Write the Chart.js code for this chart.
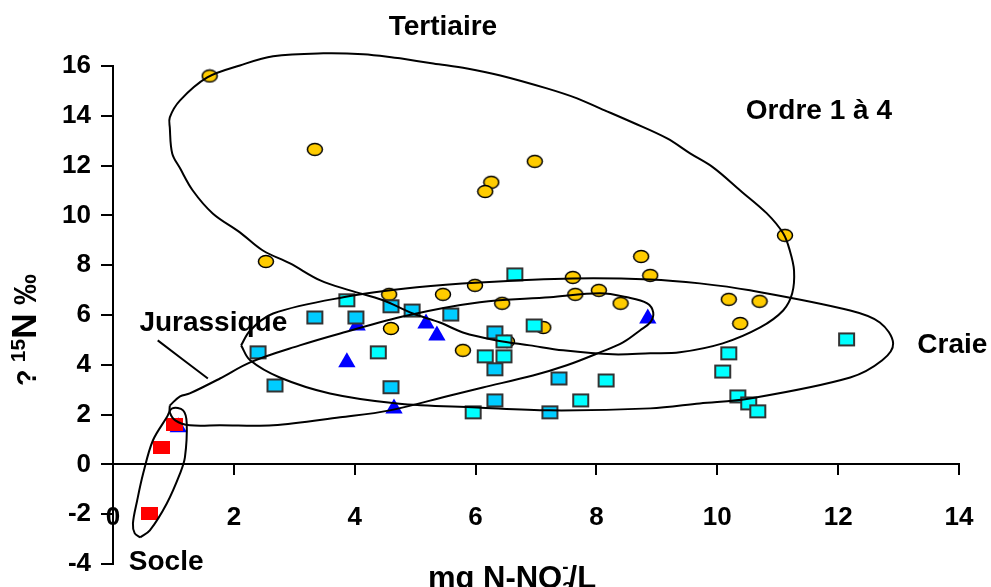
<!DOCTYPE html>
<html>
<head>
<meta charset="utf-8">
<script src="https://cdn.jsdelivr.net/npm/chart.js@4/dist/chart.umd.min.js"></script>
<style>
body{margin:0;background:#fff;}
</style>
</head>
<body>
<canvas id="chart" width="991" height="587"></canvas>
<script>

// valeurs (x = mg N-NO3/L, y = d15N)
var tertiaireX = [1.6, 3.34, 6.98, 6.26, 6.16, 11.12, 8.74, 2.53, 8.89, 8.04, 8.4, 10.19, 10.7, 10.38, 5.46, 5.99, 7.61, 6.44, 7.65, 7.12, 6.52, 5.79, 4.57, 4.6];
var tertiaireY = [15.6, 12.65, 12.17, 11.33, 10.96, 9.2, 8.35, 8.15, 7.59, 6.99, 6.47, 6.63, 6.55, 5.66, 6.83, 7.19, 7.51, 6.47, 6.83, 5.5, 4.94, 4.58, 6.83, 5.46];

var craieCyanX = [3.87, 4.39, 6.65, 6.97, 6.47, 6.16, 6.47, 8.16, 7.74, 5.96, 10.19, 10.09, 10.34, 10.52, 10.67, 12.14];
var craieCyanY = [6.59, 4.5, 7.63, 5.58, 4.94, 4.34, 4.34, 3.37, 2.57, 2.09, 4.46, 3.73, 2.73, 2.45, 2.13, 5.02];

var craieBleuX = [3.34, 4.02, 4.6, 4.95, 2.4, 2.68, 4.6, 5.59, 6.32, 6.32, 7.38, 6.32, 7.23];
var craieBleuY = [5.9, 5.9, 6.35, 6.18, 4.5, 3.17, 3.1, 6.02, 5.3, 3.82, 3.45, 2.57, 2.09];

var jurassiqueX = [4.04, 5.18, 5.36, 3.87, 4.65, 8.85, 1.08];
var jurassiqueY = [5.58, 5.66, 5.18, 4.1, 2.25, 5.86, 1.49];

var socleX = [1.01, 0.81, 0.6];
var socleY = [1.61, 0.68, -1.97];

var xTicks = [0, 2, 4, 6, 8, 10, 12, 14];
var yTicks = [-4, -2, 0, 2, 4, 6, 8, 10, 12, 14, 16];

var etiquettes = ['Tertiaire', 'Ordre 1 à 4', 'Jurassique', 'Craie', 'Socle'];

// contours dessines a la main sur l'original (en unites du graphique)
var contourTertiaire = [[4.75,16.31],[5.30,16.10],[5.86,15.90],[6.41,15.62],[7.18,15.10],[7.68,14.70],[8.06,14.30],[8.60,13.73],[9.17,13.09],[9.55,12.49],[9.93,11.93],[10.38,11.00],[10.82,10.08],[11.09,9.28],[11.20,8.59],[11.27,7.79],[11.24,6.87],[11.09,6.18],[10.71,5.50],[10.09,4.86],[9.38,4.50],[8.89,4.46],[8.27,4.42],[7.45,4.58],[6.90,4.78],[6.35,4.98],[5.79,5.30],[5.41,5.70],[4.96,6.06],[4.47,6.59],[3.92,6.99],[3.43,7.39],[2.93,8.07],[2.48,8.59],[2.10,9.32],[1.65,10.08],[1.32,11.00],[1.11,11.89],[0.98,12.49],[0.94,13.53],[0.94,13.94],[1.11,14.62],[1.56,15.54],[2.10,16.02],[2.65,16.39],[3.48,16.51],[4.14,16.47]];
var contourCraie = [[2.12,4.78],[2.27,5.38],[2.65,6.06],[3.81,6.71],[5.03,7.11],[6.07,7.31],[7.61,7.47],[8.89,7.43],[9.71,7.27],[10.54,6.99],[12.20,6.18],[12.69,5.70],[12.91,4.86],[12.73,4.18],[12.20,3.49],[10.54,2.65],[9.71,2.45],[8.89,2.25],[7.23,2.17],[6.02,2.29],[4.70,2.45],[3.59,2.85],[2.76,3.49],[2.27,4.18]];
var contourJurassique = [[0.94,2.37],[1.11,2.73],[1.27,2.85],[1.77,3.45],[2.27,4.10],[3.09,4.78],[3.76,5.26],[4.87,5.98],[6.07,6.51],[7.23,6.71],[8.06,6.87],[8.51,6.71],[8.84,6.47],[8.94,6.10],[8.89,5.70],[8.72,5.38],[8.44,4.90],[8.06,4.50],[7.51,3.98],[6.95,3.57],[6.12,3.09],[5.58,2.77],[4.58,2.17],[3.76,1.89],[2.65,1.57],[1.77,1.57],[1.27,1.57],[1.03,1.77],[0.94,2.09]];
var contourSocle = [[0.45,-2.93],[0.61,-2.65],[0.89,-1.57],[1.11,-0.36],[1.19,0.28],[1.22,1.65],[1.16,2.17],[0.98,2.25],[0.89,1.89],[0.66,0.96],[0.50,-0.36],[0.40,-1.45],[0.33,-2.37],[0.36,-2.77]];
var traitJurassique = [[0.74,4.98],[1.57,3.45]];

var police = '"Liberation Sans", Arial, sans-serif';

function points(xs, ys){
	var d = [];
	for(var i = 0; i < xs.length; i++){
		d.push({x: xs[i], y: ys[i]});
	}
	return d;
}

function contour(pts, ferme){
	var d = [];
	for(var i = 0; i < pts.length; i++){
		d.push({x: pts[i][0], y: pts[i][1]});
	}
	if(ferme) d.push({x: pts[0][0], y: pts[0][1]});
	return d;
}

function ellipse(w, h, fond, trait, lw){
	var c = document.createElement('canvas');
	c.width = w + lw * 2;
	c.height = h + lw * 2;
	var ctx = c.getContext('2d');
	ctx.beginPath();
	ctx.ellipse(c.width / 2, c.height / 2, w / 2, h / 2, 0, 0, Math.PI * 2);
	ctx.fillStyle = fond;
	ctx.fill();
	if(lw){
		ctx.lineWidth = lw;
		ctx.strokeStyle = trait;
		ctx.stroke();
	}
	return c;
}

function rectangle(w, h, fond, trait, lw){
	var c = document.createElement('canvas');
	c.width = w + lw * 2;
	c.height = h + lw * 2;
	var ctx = c.getContext('2d');
	ctx.fillStyle = fond;
	ctx.fillRect(lw, lw, w, h);
	if(lw){
		ctx.lineWidth = lw;
		ctx.strokeStyle = trait;
		ctx.strokeRect(lw, lw, w, h);
	}
	return c;
}

function ligne(pts, ferme){
	return {
		data: contour(pts, ferme),
		showLine: true,
		borderColor: '#000',
		borderWidth: 2,
		pointRadius: 0,
		tension: 0.35,
		fill: false,
		clip: false
	};
}

var textes = {
	id: 'textes',
	afterDraw: function(chart){
		var ctx = chart.ctx;
		var sx = chart.scales.x;
		var sy = chart.scales.y;
		ctx.save();
		ctx.fillStyle = '#000';
		ctx.textAlign = 'center';
		ctx.textBaseline = 'middle';
		ctx.font = 'bold 28px ' + police;
		var pos = [[5.46, 17.55], [11.68, 14.18], [1.66, 5.66], [13.89, 4.78], [0.88, -3.93]];
		for(var i = 0; i < etiquettes.length; i++){
			ctx.fillText(etiquettes[i], sx.getPixelForValue(pos[i][0]), sy.getPixelForValue(pos[i][1]));
		}

		// titre axe x : mg N-NO3-/L
		ctx.textAlign = 'left';
		ctx.textBaseline = 'alphabetic';
		var grand = 'bold 31px ' + police;
		var petit = 'bold 19px ' + police;
		var morceaux = [['mg N-NO', grand, 0], ['3', petit, 7], ['-', petit, -15], ['/L', grand, 0]];
		var total = 0;
		for(var i = 0; i < morceaux.length; i++){
			ctx.font = morceaux[i][1];
			if(i != 1) total += ctx.measureText(morceaux[i][0]).width;
		}
		var x = 512 - total / 2;
		var base = 588;
		for(var i = 0; i < morceaux.length; i++){
			ctx.font = morceaux[i][1];
			ctx.fillText(morceaux[i][0], x, base + morceaux[i][2]);
			if(i != 1) x += ctx.measureText(morceaux[i][0]).width;
		}

		// titre axe y : ? 15N ‰
		ctx.translate(36, 330);
		ctx.rotate(-Math.PI / 2);
		var morceauxY = [['? ', 'bold 27px ' + police, 0], ['15', 'bold 21px ' + police, -11], ['N', 'bold 35px ' + police, 0], [' ‰', 'bold 31px ' + police, 0]];
		total = 0;
		for(var i = 0; i < morceauxY.length; i++){
			ctx.font = morceauxY[i][1];
			total += ctx.measureText(morceauxY[i][0]).width;
		}
		x = -total / 2;
		for(var i = 0; i < morceauxY.length; i++){
			ctx.font = morceauxY[i][1];
			ctx.fillText(morceauxY[i][0], x, morceauxY[i][2]);
			x += ctx.measureText(morceauxY[i][0]).width;
		}
		ctx.restore();
	}
};

var ctx = document.getElementById('chart');

var graphique = new Chart(ctx, {
	type: 'scatter',
	data: {
		datasets: [
			ligne(contourTertiaire, true),
			ligne(contourCraie, true),
			ligne(contourJurassique, true),
			ligne(contourSocle, true),
			ligne(traitJurassique, false),
			{
				label: 'Socle',
				data: points(socleX, socleY),
				pointStyle: rectangle(17, 13, '#FF0000', '#FF0000', 0),
				pointRadius: 6
			},
			{
				label: 'Craie',
				data: points(craieCyanX, craieCyanY),
				pointStyle: rectangle(15, 12, '#00FFFF', '#333333', 2),
				pointRadius: 6
			},
			{
				label: 'Craie (2)',
				data: points(craieBleuX, craieBleuY),
				pointStyle: rectangle(15, 12, '#00CCFF', '#333333', 2),
				pointRadius: 6
			},
			{
				label: 'Jurassique',
				data: points(jurassiqueX, jurassiqueY),
				pointStyle: 'triangle',
				pointRadius: 10,
				backgroundColor: '#0000FF',
				borderColor: '#0000FF',
				borderWidth: 0
			},
			{
				label: 'Tertiaire',
				data: points(tertiaireX, tertiaireY),
				pointStyle: ellipse(15, 12, '#FFCC00', '#000000', 1.5),
				pointRadius: 6
			}
		]
	},
	options: {
		responsive: false,
		animation: false,
		events: [],
		layout: {
			padding: {top: 66, bottom: 23, left: 0, right: 32}
		},
		plugins: {
			legend: {display: false},
			tooltip: {enabled: false}
		},
		scales: {
			x: {
				type: 'linear',
				position: {y: 0},
				min: 0,
				max: 14,
				afterBuildTicks: function(scale){
					scale.ticks = xTicks.map(function(v){ return {value: v}; });
				},
				afterFit: function(scale){
					scale.paddingLeft = 0;
					scale.paddingRight = 0;
				},
				border: {display: true, color: '#000', width: 2},
				grid: {drawOnChartArea: false, drawTicks: true, tickLength: 10, color: '#000', lineWidth: 2},
				ticks: {color: '#000', font: {family: police, size: 26, weight: 'bold'}, padding: 28, maxRotation: 0}
			},
			y: {
				type: 'linear',
				position: 'left',
				min: -4,
				max: 16,
				afterBuildTicks: function(scale){
					scale.ticks = yTicks.map(function(v){ return {value: v}; });
				},
				afterFit: function(scale){
					scale.width = 113;
					scale.paddingTop = 0;
					scale.paddingBottom = 0;
				},
				border: {display: true, color: '#000', width: 2},
				grid: {drawOnChartArea: false, drawTicks: true, tickLength: 12, color: '#000', lineWidth: 2},
				ticks: {color: '#000', font: {family: police, size: 26, weight: 'bold'}, padding: 10}
			}
		}
	},
	plugins: [textes]
});

</script>
</body>
</html>
